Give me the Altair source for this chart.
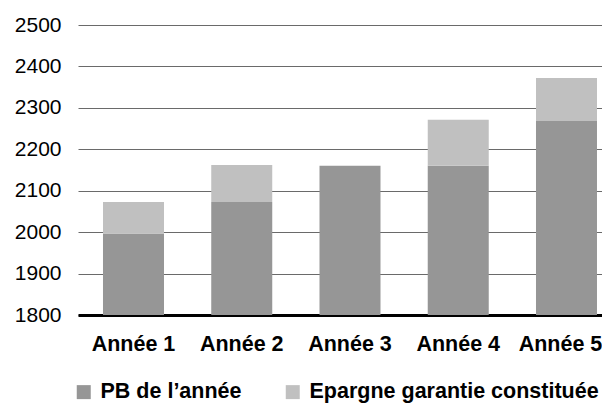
import altair as alt
import pandas as pd

years = ["Année 1", "Année 2", "Année 3", "Année 4", "Année 5"]
series = ["PB de l’année", "Epargne garantie constituée"]
pb = [1997, 2073, 2160, 2160, 2268]
epargne = [76, 89, 0, 111, 104]
colors = ["#969696", "#c0c0c0"]

rows = []
for i, y in enumerate(years):
    rows.append({"annee": y, "serie": series[0], "valeur": pb[i], "ordre": 0})
    rows.append({"annee": y, "serie": series[1], "valeur": epargne[i], "ordre": 1})
df = pd.DataFrame(rows)

FONT = "Liberation Sans"

chart = alt.Chart(df).mark_bar(clip=True).encode(
    x=alt.X(
        "annee:N",
        sort=years,
        scale=alt.Scale(paddingInner=0.4365, paddingOuter=0.1386, align=0.833),
        axis=alt.Axis(
            title=None, labelAngle=0, ticks=False, grid=False,
            domainColor="#000000", domainWidth=3,
            labelFont=FONT, labelFontSize=21.5, labelFontWeight="bold",
            labelColor="#000000", labelPadding=18,
            labelOffset={"condition": {"test": "datum.value === '" + years[-1] + "'", "value": -6}, "value": 0},
        ),
    ),
    y=alt.Y(
        "valeur:Q",
        stack="zero",
        scale=alt.Scale(domain=[1800, 2500], zero=False, nice=False),
        axis=alt.Axis(
            title=None, values=[1800, 1900, 2000, 2100, 2200, 2300, 2400, 2500],
            format="d",
            domain=False, ticks=False, grid=True, gridColor="#6a6a6a", gridWidth=1,
            labelFont=FONT, labelFontSize=21, labelColor="#000000", labelPadding=17,
        ),
    ),
    color=alt.Color(
        "serie:N",
        scale=alt.Scale(domain=series, range=colors),
        legend=alt.Legend(
            title=None, orient="none", direction="horizontal",
            legendX=-5, legendY=356, padding=0,
            symbolType="square", symbolSize=196, symbolStrokeWidth=0,
            labelFont=FONT, labelFontSize=21.5, labelFontWeight="bold",
            labelColor="#000000", labelOffset=6, columnPadding=40,
            labelLimit=400,
        ),
    ),
    order=alt.Order("ordre:Q"),
).properties(
    width=524,
    height=290,
    autosize=alt.AutoSizeParams(type="none"),
    padding={"left": 70, "top": 17, "right": 0, "bottom": 88},
).configure_view(stroke=None)

chart.save("out.html", embed_options={"renderer": "svg", "actions": False})
